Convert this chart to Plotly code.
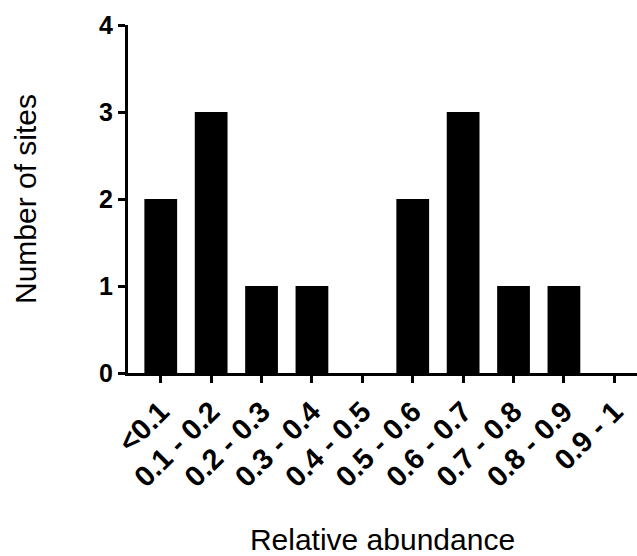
import plotly.graph_objects as go

categories = ["<0.1", "0.1 - 0.2", "0.2 - 0.3", "0.3 - 0.4", "0.4 - 0.5",
              "0.5 - 0.6", "0.6 - 0.7", "0.7 - 0.8", "0.8 - 0.9", "0.9 - 1"]
site_counts = [2, 3, 1, 1, 0, 2, 3, 1, 1, 0]
y_ticks = [0, 1, 2, 3, 4]

font_family = "Liberation Sans, Arial, Helvetica, sans-serif"

fig = go.Figure(
    go.Bar(
        x=categories,
        y=site_counts,
        marker=dict(color="black", line=dict(width=0)),
    )
)

fig.update_layout(
    width=637,
    height=556,
    margin=dict(l=128, r=0, t=25, b=183),
    paper_bgcolor="white",
    plot_bgcolor="white",
    bargap=0.35,
    showlegend=False,
    font=dict(family=font_family, color="black"),
)

fig.update_xaxes(
    type="category",
    range=[-0.65, 9.45],
    automargin=False,
    showline=True,
    linecolor="black",
    linewidth=3,
    ticks="outside",
    ticklen=7,
    tickwidth=3,
    tickcolor="black",
    tickangle=-45,
    tickfont=dict(size=29, weight="bold"),
    showgrid=False,
    zeroline=False,
    title=dict(text="Relative abundance", font=dict(size=30), standoff=48),
)

fig.update_yaxes(
    range=[0, 4],
    tickvals=y_ticks,
    automargin=False,
    showline=True,
    linecolor="black",
    linewidth=3,
    ticks="outside",
    ticklen=7,
    tickwidth=3,
    tickcolor="black",
    tickfont=dict(size=25, weight="bold"),
    showgrid=False,
    zeroline=False,
    title=dict(text="Number of sites", font=dict(size=30), standoff=54),
)

fig.write_html("out.html")
